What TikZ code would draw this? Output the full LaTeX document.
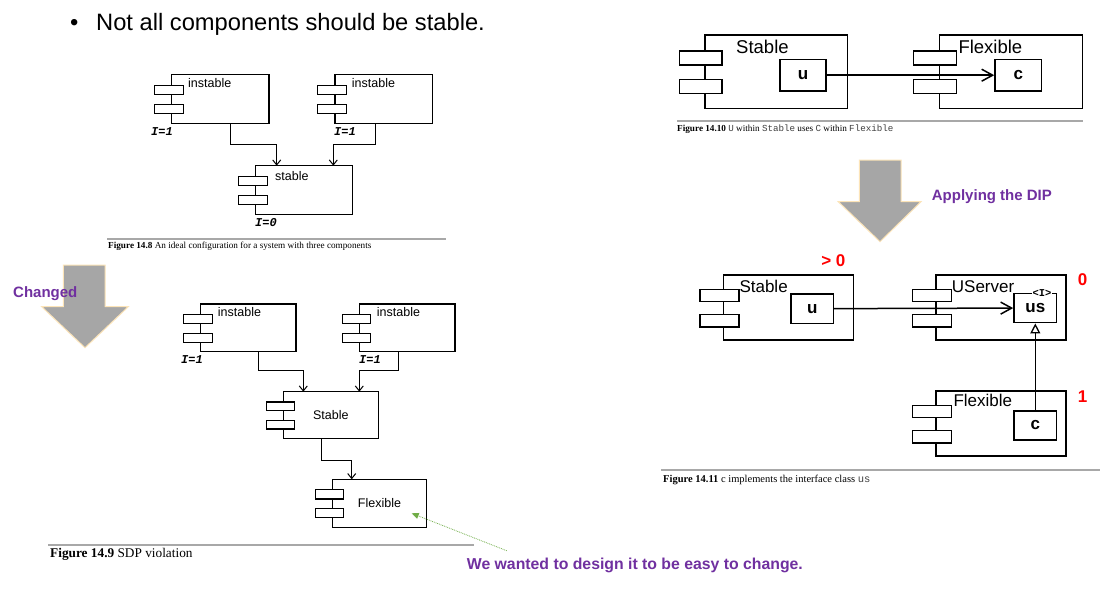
\documentclass[tikz,border=0pt]{standalone}
\usepackage{fontspec}
\setmainfont{Liberation Serif}
\setsansfont{Liberation Sans}
\setmonofont{Liberation Mono}
\usetikzlibrary{arrows.meta,calc}
\definecolor{purp}{HTML}{7030A0}
\definecolor{arrgray}{HTML}{A6A6A6}
\definecolor{cream}{HTML}{FCE4B8}
\definecolor{rulegray}{HTML}{A8A8A8}
\definecolor{noteg}{HTML}{70AD47}
\newcommand\fs[1]{\fontsize{#1}{#1}\selectfont}
\newcommand\comp[6]{%
 \pgfmathsetmacro\cw{#4-#2}\pgfmathsetmacro\ch{#5-#3}%
 \pgfmathsetmacro\cx{#2-0.03*\cw}%
 \pgfmathsetmacro\cyA{#3+0.315*\ch}\pgfmathsetmacro\cyB{#3+0.705*\ch}%
 \pgfmathsetmacro\rw{0.30*\cw}\pgfmathsetmacro\rh{0.19*\ch}%
 \node[compbox,#6,minimum width=\cw pt,minimum height=\ch pt,anchor=north west] (#1) at (#2,#3) {};
 \node[port,#6,minimum width=\rw pt,minimum height=\rh pt] (#1-p1) at (\cx,\cyA) {};
 \node[port,#6,minimum width=\rw pt,minimum height=\rh pt] (#1-p2) at (\cx,\cyB) {};
}
\tikzset{
 compbox/.style={draw,inner sep=0pt,outer sep=0pt},
 port/.style={draw,fill=white,inner sep=0pt,outer sep=0pt},
 smallc/.style={line width=1.1pt},
 bigc/.style={line width=1.5pt},
 lab/.style={font=\sffamily\fs{12.5},inner sep=0pt,anchor=base west},
 biglab/.style={font=\sffamily\fs{17},inner sep=0pt,anchor=base west},
 ilab/.style={font=\ttfamily\bfseries\itshape\fs{12},inner sep=0pt,anchor=base west},
 conn/.style={line width=1pt,-{Straight Barb[length=5pt,width=8pt]}},
 inbox/.style={draw,line width=1.5pt,inner sep=0pt,font=\sffamily\bfseries\fs{17}},
 bigarr/.style={line width=1.5pt,-{Straight Barb[length=11pt,width=12pt,line width=1.5pt]}},
 real/.style={line width=1.5pt,-{Triangle[open,length=10pt,width=10pt,fill=white,line width=1.3pt]}},
 rule/.style={draw=rulegray,line width=2pt},
 captext/.style={inner sep=0pt,anchor=base west},
 purplab/.style={font=\sffamily\bfseries\fs{15},text=purp,inner sep=0pt,anchor=base west},
 redlab/.style={font=\sffamily\bfseries\fs{17},text=red,inner sep=0pt},
 bigdown/.style={fill=arrgray,draw=cream,line width=1pt},
 note/.style={draw=noteg,densely dotted,line width=0.8pt,-{Triangle[length=7pt,width=6pt,fill=noteg]}}
}
\newcommand\cm[1]{{\ttfamily\color{black!75}#1}}
\begin{document}
\begin{tikzpicture}[x=1pt,y=-1pt]
\useasboundingbox[fill=white] (0,0) rectangle (1110,597);

% heading
\node[font=\sffamily\fs{23.7},inner sep=0pt,anchor=base west] (bul) at (70,30) {•};
\node[font=\sffamily\fs{23.7},inner sep=0pt,anchor=base west] (head) at (96,30) {Not all components should be stable.};

% big arrows
\draw[bigdown] (63.3,265) -- (105,265) -- (105,306.7) -- (128.3,306.7) -- (85,347.7) -- (41.7,306.7) -- (63.3,306.7) -- cycle;
\draw[bigdown] (859.3,160) -- (901,160) -- (901,201.7) -- (921,201.7) -- (880,241.7) -- (838.3,201.7) -- (859.3,201.7) -- cycle;
\node[purplab] (chg) at (13,297.7) {Changed};
\node[purplab] (dip) at (931.7,200) {Applying the DIP};

% Figure 14.8
\comp{i1}{171.7}{74.3}{269}{123.3}{smallc}
\comp{i2}{335}{74.3}{432.7}{123.3}{smallc}
\comp{st}{255.7}{165.7}{352.7}{214.3}{smallc}
\node[lab] (i1l) at (188,87.5) {instable};
\node[lab] (i2l) at (351.7,87.5) {instable};
\node[lab] (stl) at (275,180.7) {stable};
\node[ilab] (i1i) at (151,135) {I=1};
\node[ilab] (i2i) at (334,135) {I=1};
\node[ilab] (sti) at (255,226.5) {I=0};
\draw[conn] ([xshift=9.7pt]i1.south) -- ++(0,21) -| ([xshift=-27.5pt]st.north);
\draw[conn] ([xshift=-7.9pt]i2.south) -- ++(0,21) -| ([xshift=29.1pt]st.north);
\draw[rule] (107,239) -- (446,239);
\node[captext,font=\rmfamily\fs{9.2}] (cap8) at (108,248) {\textbf{Figure 14.8} An ideal configuration for a system with three components};

% Figure 14.9
\comp{j1}{200.7}{304}{296}{351.7}{smallc}
\comp{j2}{359.3}{304}{455}{351.7}{smallc}
\comp{sb}{283.3}{391.7}{378.3}{438.3}{smallc}
\comp{fl}{332.3}{479.3}{426.7}{527.3}{smallc}
\node[lab] (j1l) at (217.7,316) {instable};
\node[lab] (j2l) at (376.7,316) {instable};
\node[font=\sffamily\fs{12.5},inner sep=0pt] (sbl) at (sb.center) {Stable};
\node[font=\sffamily\fs{12.5},inner sep=0pt] (fll) at (fl.center) {Flexible};
\node[ilab] (j1i) at (181,363) {I=1};
\node[ilab] (j2i) at (359,363) {I=1};
\draw[conn] ([xshift=9.9pt]j1.south) -- ++(0,18.3) -| ([xshift=-27.5pt]sb.north);
\draw[conn] ([xshift=-8.9pt]j2.south) -- ++(0,18.3) -| ([xshift=28.5pt]sb.north);
\draw[conn] ([xshift=-9.1pt]sb.south) -- ++(0,21.7) -| ([xshift=-27.8pt]fl.north);
\coordinate (gtail) at (506.7,550.7);
\draw[note] (gtail) -- ([xshift=32.2pt,yshift=-10pt]fl.center);
\draw[rule] (48,544.5) -- (474,544.5);
\node[captext,font=\rmfamily\fs{13.3}] (cap9) at (50,557) {\textbf{Figure 14.9} SDP violation};
\node[purplab,font=\sffamily\bfseries\fs{15.8}] (want) at (466.7,569.5) {We wanted to design it to be easy to change.};

% Figure 14.10
\comp{s10}{705}{35}{847.3}{108.3}{bigc}
\comp{f10}{939.3}{35}{1082.7}{108.3}{bigc}
\node[biglab,font=\sffamily\fs{18.5}] (s10l) at (736,53.3) {Stable};
\node[biglab,font=\sffamily\fs{18.5}] (f10l) at (958.3,53.3) {Flexible};
\node[inbox,minimum width=46pt,minimum height=31.7pt] (u10) at (803,75.2) {u};
\node[inbox,minimum width=46.7pt,minimum height=31.7pt] (c10) at (1018.3,75.2) {c};
\draw[bigarr] (u10) -- (c10);
\draw[rule] (677,121) -- (1083,121);
\node[captext,font=\rmfamily\fs{9.2}] (cap10) at (677,131) {\textbf{Figure 14.10} \cm{U} within \cm{Stable} uses \cm{C} within \cm{Flexible}};

% Figure 14.11
\comp{s11}{723.3}{275}{853.3}{340}{bigc}
\comp{us11}{936}{275}{1066}{340}{bigc}
\comp{f11}{936}{391}{1066}{456}{bigc}
\node[biglab] (s11l) at (739.3,292.3) {Stable};
\node[biglab] (us11l) at (951.7,292.3) {UServer};
\node[biglab] (f11l) at (953.3,406.7) {Flexible};
\node[inbox,minimum width=42.3pt,minimum height=29.3pt] (u11) at (812.2,308.7) {u};
\node[inbox,minimum width=42.7pt,minimum height=29.4pt] (usb) at (1035.3,308) {us};
\node[inbox,minimum width=42.7pt,minimum height=29pt] (c11) at (1035.3,425.5) {c};
\node[fill=white,inner xsep=1pt,inner ysep=0.5pt,font=\ttfamily\bfseries\fs{10.5}] (iface) at (1042,292.6) {<I>};
\draw[bigarr] (u11) -- (usb);
\draw[real] (c11) -- (usb);
\node[redlab] (r1) at (833.3,260.7) {> 0};
\node[redlab] (r2) at (1082.7,280) {0};
\node[redlab] (r3) at (1082.7,396.7) {1};
\draw[rule] (661,470) -- (1100,470);
\node[captext,font=\rmfamily\fs{10.5}] (cap11) at (663,482) {\textbf{Figure 14.11} c implements the interface class \cm{us}};
\end{tikzpicture}
\end{document}
